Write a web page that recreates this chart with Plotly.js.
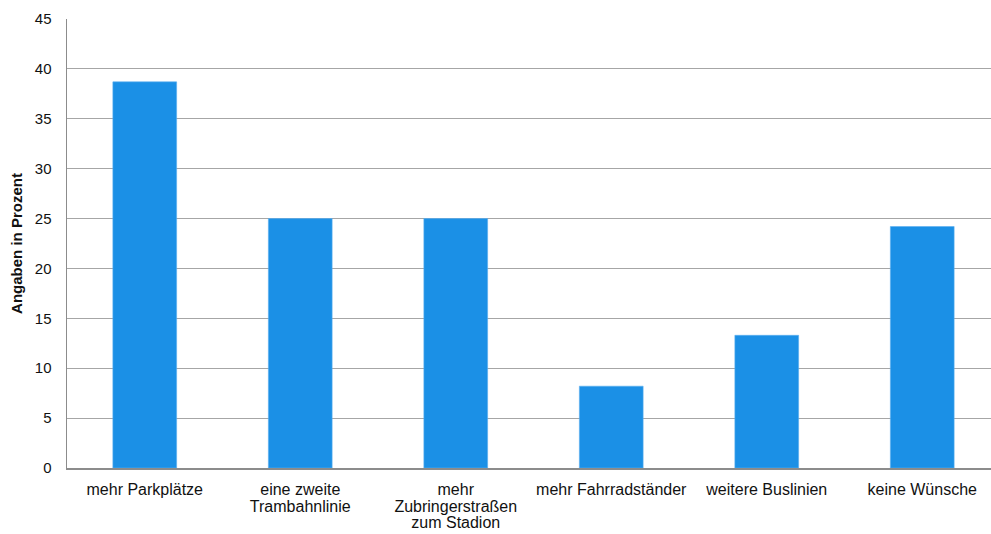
<!DOCTYPE html>
<html>
<head>
<meta charset="utf-8">
<script src="https://cdn.plot.ly/plotly-3.0.1.min.js"></script>
<style>
html, body { margin: 0; padding: 0; overflow: hidden; background: #fff; }
#chart { width: 1000px; height: 534px; }
</style>
</head>
<body>
<div id="chart"></div>
<script>
const categories = [
  "mehr Parkplätze",
  "eine zweite<br>Trambahnlinie",
  "mehr<br>Zubringerstraßen<br>zum Stadion",
  "mehr Fahrradständer",
  "weitere Buslinien",
  "keine Wünsche"
];
const values = [38.7, 25.0, 25.0, 8.2, 13.3, 24.2];
const yTicks = [0, 5, 10, 15, 20, 25, 30, 35, 40, 45];

const trace = {
  type: "bar",
  x: categories,
  y: values,
  marker: { color: "#1b90e6", line: { color: "#5aaef0", width: 0.6 } },
  hoverinfo: "none"
};

const layout = {
  width: 1000,
  height: 534,
  margin: { l: 67, r: 0, t: 18.5, b: 65.7 },
  paper_bgcolor: "#ffffff",
  plot_bgcolor: "#ffffff",
  showlegend: false,
  bargap: 0.59,
  font: { family: "Liberation Sans, Arial, sans-serif", size: 15, color: "#111111" },
  xaxis: {
    type: "category",
    showgrid: false,
    showline: true,
    linecolor: "#8c8c8c",
    linewidth: 1.5,
    ticks: "",
    ticklabelstandoff: 6,
    tickfont: { size: 16, color: "#111111" },
    fixedrange: true
  },
  yaxis: {
    range: [0, 45],
    tickvals: yTicks,
    ticktext: yTicks.map(String),
    showgrid: true,
    gridcolor: "#a6a6a6",
    gridwidth: 1,
    showline: true,
    linecolor: "#8c8c8c",
    linewidth: 1.5,
    zeroline: false,
    ticks: "",
    ticklabelstandoff: 11,
    tickfont: { size: 15, color: "#111111" },
    title: { text: "<b>Angaben in Prozent</b>", font: { size: 15, color: "#111111" }, standoff: 8 },
    fixedrange: true
  }
};

Plotly.newPlot("chart", [trace], layout, { staticPlot: true, displayModeBar: false }).then(function (gd) {
  // tighter line spacing for multi-line category labels
  gd.querySelectorAll(".xtick text").forEach(function (t) {
    t.querySelectorAll("tspan.line").forEach(function (ts, i) {
      ts.setAttribute("dy", (i * 1.05) + "em");
    });
  });
});
</script>
</body>
</html>
